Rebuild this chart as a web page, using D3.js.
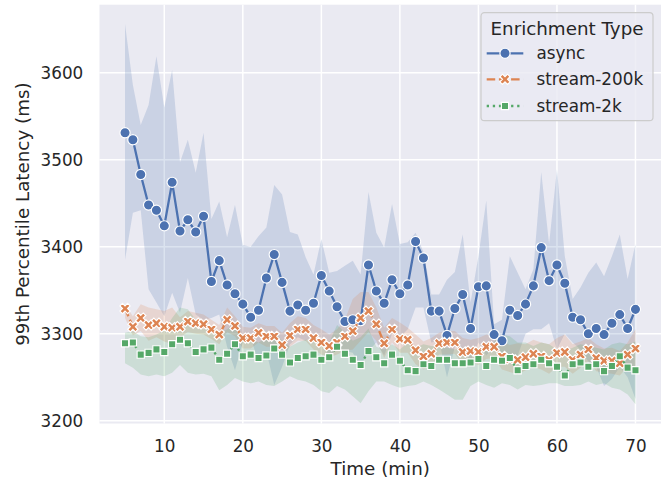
<!DOCTYPE html>
<html><head><meta charset="utf-8">
<script src="https://cdn.jsdelivr.net/npm/d3@7"></script>
<style>
body{margin:0;background:#fff}
svg{display:block}
text{font-family:"DejaVu Sans",sans-serif;fill:#262626}
</style>
</head><body>
<svg id="c" width="667" height="485"></svg>
<script>
// ---------------- data ----------------
const time = [5,6,7,8,9,10,11,12,13,14,15,16,17,18,19,20,21,22,23,24,25,26,27,28,29,30,31,32,33,34,35,36,37,38,39,40,41,42,43,44,45,46,47,48,49,50,51,52,53,54,55,56,57,58,59,60,61,62,63,64,65,66,67,68,69,70];

const asyncMean = [3531,3523,3483,3448,3442,3424,3474,3418,3431,3417,3435,3360,3384,3356,3346,3334,3319,3327,3364,3391,3359,3326,3333,3327,3335,3367,3349,3331,3314,3316,3315,3379,3349,3335,3362,3346,3356,3406,3387,3326,3326,3298,3329,3345,3306,3354,3355,3299,3292,3327,3321,3334,3355,3399,3361,3379,3358,3319,3316,3300,3306,3299,3312,3322,3306,3328];
const asyncUpper = [3656,3586,3540,3563,3619,3560,3603,3497,3523,3485,3531,3432,3452,3411,3448,3402,3400,3412,3422,3471,3460,3417,3414,3388,3368,3409,3370,3372,3378,3384,3368,3463,3416,3399,3449,3403,3405,3416,3394,3345,3345,3362,3371,3414,3336,3389,3453,3311,3316,3389,3370,3351,3374,3486,3403,3489,3389,3340,3353,3370,3382,3366,3389,3414,3363,3403];
const asyncLower = [3385,3439,3442,3351,3336,3320,3347,3324,3364,3322,3316,3318,3322,3285,3258,3290,3295,3268,3280,3241,3262,3288,3296,3292,3298,3296,3270,3285,3280,3278,3262,3280,3290,3275,3300,3296,3305,3330,3330,3290,3292,3250,3285,3282,3268,3290,3275,3285,3272,3270,3275,3300,3305,3305,3312,3282,3300,3290,3282,3268,3262,3240,3248,3262,3250,3225];

const s200Mean = [3329,3308,3318,3310,3312,3308,3307,3308,3314,3312,3311,3305,3299,3316,3309,3295,3295,3301,3297,3297,3287,3298,3305,3305,3295,3290,3286,3290,3297,3303,3318,3326,3311,3289,3305,3294,3293,3281,3274,3277,3289,3290,3290,3279,3280,3279,3285,3285,3274,3271,3270,3273,3277,3274,3270,3278,3279,3270,3276,3282,3272,3269,3269,3266,3276,3283];
const s200Upper = [3334,3320,3334,3330,3328,3326,3330,3319,3326,3324,3322,3316,3310,3330,3320,3308,3307,3312,3309,3309,3301,3312,3320,3318,3310,3305,3299,3305,3316,3340,3348,3348,3330,3307,3318,3313,3307,3299,3291,3295,3301,3303,3303,3295,3293,3295,3299,3297,3291,3287,3289,3288,3293,3290,3288,3295,3299,3288,3291,3295,3288,3283,3284,3280,3290,3305];
const s200Lower = [3318,3298,3303,3292,3296,3291,3288,3296,3302,3300,3299,3294,3288,3302,3297,3283,3283,3290,3285,3285,3274,3285,3292,3292,3282,3276,3273,3276,3280,3282,3292,3302,3292,3272,3290,3278,3278,3265,3259,3262,3276,3276,3277,3265,3267,3264,3271,3272,3259,3256,3253,3258,3262,3259,3254,3262,3262,3254,3261,3268,3257,3255,3254,3252,3262,3260];

const s2kMean = [3289,3290,3276,3278,3282,3279,3288,3293,3289,3279,3282,3284,3270,3277,3288,3274,3276,3272,3275,3283,3276,3267,3272,3274,3276,3270,3273,3285,3277,3270,3264,3280,3273,3266,3276,3269,3258,3257,3265,3263,3270,3270,3266,3266,3267,3271,3263,3270,3269,3272,3258,3263,3265,3270,3266,3262,3252,3265,3267,3262,3265,3257,3263,3274,3261,3258];
const s2kUpper = [3301,3303,3297,3296,3299,3304,3318,3330,3328,3316,3305,3308,3300,3305,3312,3298,3293,3290,3295,3302,3292,3285,3290,3293,3293,3288,3290,3310,3302,3292,3296,3306,3285,3282,3288,3282,3290,3284,3288,3286,3286,3284,3282,3284,3282,3284,3280,3291,3299,3297,3290,3290,3286,3290,3288,3282,3280,3284,3288,3286,3284,3282,3288,3290,3288,3291];
const s2kLower = [3266,3261,3253,3251,3253,3251,3255,3264,3255,3253,3254,3251,3235,3241,3249,3245,3243,3245,3241,3240,3245,3251,3247,3245,3241,3234,3232,3240,3236,3228,3220,3234,3245,3245,3241,3238,3240,3241,3245,3241,3236,3230,3224,3224,3240,3245,3241,3238,3243,3241,3236,3241,3240,3241,3243,3243,3240,3240,3241,3245,3241,3243,3238,3236,3230,3219];

const seriesNames = ["async","stream-200k","stream-2k"];
const xTicks = [10,20,30,40,50,60,70];
const yTicks = [3200,3300,3400,3500,3600];
const xLabel = "Time (min)";
const yLabel = "99th Percentile Latency (ms)";
const legendTitle = "Enrichment Type";

// ---------------- chart ----------------
const colors = ["#4c72b0","#dd8452","#55a868"];
const means = [asyncMean, s200Mean, s2kMean];
const uppers = [asyncUpper, s200Upper, s2kUpper];
const lowers = [asyncLower, s200Lower, s2kLower];

const L = 99.5, R = 661, T = 4.7, B = 423.5;
const x = d3.scaleLinear().domain([1.75, 73.25]).range([L, R]);
const y = d3.scaleLinear().domain([3196.8, 3678.2]).range([B, T]);

const svg = d3.select("#c");
svg.append("rect").attr("x",L).attr("y",T).attr("width",R-L).attr("height",B-T).attr("fill","#eaeaf2");

svg.append("defs").append("clipPath").attr("id","clip")
  .append("rect").attr("x",L).attr("y",T).attr("width",R-L).attr("height",B-T);

// grid
const grid = svg.append("g");
grid.selectAll(".gx").data(xTicks).join("line")
  .attr("x1",d=>x(d)).attr("x2",d=>x(d)).attr("y1",T).attr("y2",B)
  .attr("stroke","#fff").attr("stroke-width",1.5);
grid.selectAll(".gy").data(yTicks).join("line")
  .attr("x1",L).attr("x2",R).attr("y1",d=>y(d)).attr("y2",d=>y(d))
  .attr("stroke","#fff").attr("stroke-width",1.5);

// axes labels via d3 axes
const xAxis = svg.append("g").attr("transform",`translate(0,${B})`)
  .call(d3.axisBottom(x).tickValues(xTicks).tickSize(0).tickPadding(0).tickFormat(d3.format("d")));
xAxis.select(".domain").remove();
xAxis.selectAll("text").attr("dy",null).attr("y",28.2).attr("font-size","16.8px").attr("fill","#262626");

const yAxis = svg.append("g").attr("transform",`translate(${L},0)`)
  .call(d3.axisLeft(y).tickValues(yTicks).tickSize(0).tickPadding(16.2).tickFormat(d3.format("d")));
yAxis.select(".domain").remove();
yAxis.selectAll("text").attr("dy","0.36em").attr("font-size","16.8px").attr("fill","#262626");

svg.append("text").attr("x",(L+R)/2).attr("y",474.5).attr("text-anchor","middle")
  .attr("font-size","18.3px").text(xLabel);
svg.append("text").attr("transform",`translate(28.5,${(T+B)/2}) rotate(-90)`).attr("text-anchor","middle")
  .attr("font-size","18.3px").text(yLabel);

const plot = svg.append("g").attr("clip-path","url(#clip)");

// bands
means.forEach((m,i)=>{
  const area = d3.area().x((d,j)=>x(time[j])).y0((d,j)=>y(lowers[i][j])).y1((d,j)=>y(uppers[i][j]));
  plot.append("path").datum(m).attr("d",area).attr("fill",colors[i]).attr("fill-opacity",0.2).attr("stroke","none");
});

const lw = 2.3;
const dashes = [null, `${3.7*lw},${1.6*lw}`, `${1*lw},${1.65*lw}`];
const ms = 10.2, mew = 1.15;

// X marker path (matplotlib filled X, unit square)
const xVerts = [[0.25,0],[0.5,0.25],[0.75,0],[1,0.25],[0.75,0.5],[1,0.75],[0.75,1],[0.5,0.75],[0.25,1],[0,0.75],[0.25,0.5],[0,0.25]];
function xPath(s){ return "M"+xVerts.map(p=>[(p[0]-0.5)*s,(p[1]-0.5)*s].join(",")).join("L")+"Z"; }
function squarePath(s){ const h = s*0.5*Math.SQRT1_2; return `M${-h},${-h}L${h},${-h}L${h},${h}L${-h},${h}Z`; }

function drawMarker(g, i, cx, cy){
  if(i===0){
    g.append("circle").attr("cx",cx).attr("cy",cy).attr("r",ms/2)
      .attr("fill",colors[i]).attr("stroke","#fff").attr("stroke-width",mew);
  } else {
    g.append("path").attr("transform",`translate(${cx},${cy})`).attr("d", i===1 ? xPath(ms) : squarePath(ms))
      .attr("fill",colors[i]).attr("stroke","#fff").attr("stroke-width",mew).attr("stroke-linejoin","miter");
  }
}

// lines + markers
means.forEach((m,i)=>{
  const line = d3.line().x((d,j)=>x(time[j])).y(d=>y(d));
  const g = plot.append("g");
  g.append("path").datum(m).attr("d",line).attr("fill","none").attr("stroke",colors[i])
    .attr("stroke-width",lw).attr("stroke-dasharray",dashes[i]).attr("stroke-linejoin","round");
  m.forEach((v,j)=>drawMarker(g,i,x(time[j]),y(v)));
});

// legend
const lg = svg.append("g");
lg.append("rect").attr("x",481).attr("y",12.7).attr("width",172).attr("height",108).attr("rx",3.5)
  .attr("fill","#eaeaf2").attr("fill-opacity",0.8).attr("stroke","#cccccc").attr("stroke-width",1.2);
lg.append("text").attr("x",567).attr("y",34.5).attr("text-anchor","middle").attr("font-size","18.3px").text(legendTitle);
const hy = [53.3,79.3,106];
seriesNames.forEach((name,i)=>{
  lg.append("line").attr("x1",486.7).attr("x2",523.3).attr("y1",hy[i]).attr("y2",hy[i])
    .attr("stroke",colors[i]).attr("stroke-width",lw).attr("stroke-dasharray",dashes[i]);
  drawMarker(lg,i,505,hy[i]);
  lg.append("text").attr("x",536.5).attr("y",hy[i]).attr("dy","0.36em").attr("font-size","16.8px").text(name);
});
</script>
</body></html>
